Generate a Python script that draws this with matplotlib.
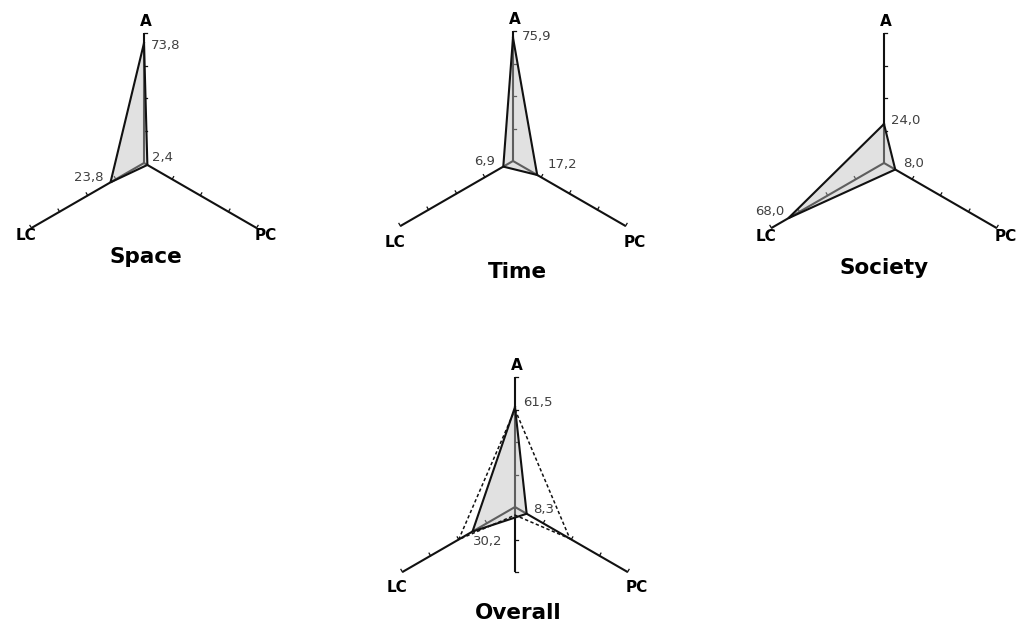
import numpy as np
import matplotlib
matplotlib.use("Agg")
import matplotlib.pyplot as plt

# values (A, LC, PC)
categories = ["A", "LC", "PC"]
space_vals = [73.8, 23.8, 2.4]
time_vals = [75.9, 6.9, 17.2]
society_vals = [24.0, 68.0, 8.0]
overall_vals = [61.5, 30.2, 8.3]
# dashed outline on the overall chart: A, PC, dip below centre, LC
overall_dashed = [60.0, 39.0, 5.0, 40.0]
titles = ["Space", "Time", "Society", "Overall"]

axis_ticks = [20, 40, 60, 80]
axis_max = 80

# layout (pixels, y from top of figure)
W, H = 1019, 623
PX_PER_UNIT = 130 / 80
HALF = 150
ANG = {"A": 90, "LC": 210, "PC": 330}
DASH_ANG = [90, 330, 270, 210]

charts = [
    dict(vals=space_vals, center=(144, 163), title_d=(2, 100), name_dy=77,
         offs=[(7, 2), (-7.5, -5), (5, -7.5)], ha=["left", "right", "left"]),
    dict(vals=time_vals, center=(513, 161), title_d=(4, 117), name_dy=86,
         offs=[(9, -1), (-8, -5.5), (10, -10)], ha=["left", "right", "left"]),
    dict(vals=society_vals, center=(884, 163), title_d=(0, 111), name_dy=78,
         offs=[(7, -3.5), (-3.5, -7), (8, -6.5)], ha=["left", "right", "left"]),
    dict(vals=overall_vals, center=(515, 507), title_d=(3, 112), name_dy=85,
         offs=[(8, -5), (0.5, 9.5), (6.5, -4)], ha=["left", "left", "left"]),
]


def to_xy(values, angles):
    a = np.radians(angles)
    v = np.asarray(values, dtype=float)
    return v * np.cos(a), v * np.sin(a)


fig = plt.figure(figsize=(W / 100, H / 100), dpi=100)
lim = HALF / PX_PER_UNIT
tick_len = 3 / PX_PER_UNIT
line_col = "#111111"

for i, ch in enumerate(charts):
    cx, cy = ch["center"]
    ax = fig.add_axes([(cx - HALF) / W, (H - cy - HALF) / H, 2 * HALF / W, 2 * HALF / H])
    ax.set_xlim(-lim, lim)
    ax.set_ylim(-lim, lim)
    ax.axis("off")

    # axes with small ticks
    for cat in categories:
        ang = ANG[cat]
        lo = -40 if (cat == "A" and i == 3) else 0
        xs, ys = to_xy([lo, axis_max], [ang, ang])
        ax.plot(xs, ys, color=line_col, lw=1.5, zorder=1, solid_capstyle="butt")
        perp = {"A": 0, "LC": 120, "PC": 60}[cat]
        tks = list(axis_ticks) + ([-20, -40] if lo < 0 else [])
        for t in tks:
            bx, by = to_xy([t], [ang])
            dx, dy = to_xy([tick_len], [perp])
            ax.plot([bx[0], bx[0] + dx[0]], [by[0], by[0] + dy[0]],
                    color=line_col, lw=0.9, zorder=1)

    angs = [ANG[c] for c in categories]
    px, py = to_xy(ch["vals"], angs)
    ax.fill(px, py, facecolor="#bdbdbd", alpha=0.45, edgecolor="none", zorder=2)
    ax.plot(np.append(px, px[0]), np.append(py, py[0]), color=line_col, lw=1.5,
            zorder=3, solid_joinstyle="miter")

    if i == 3:
        dx_, dy_ = to_xy(overall_dashed, DASH_ANG)
        ax.plot(np.append(dx_, dx_[0]), np.append(dy_, dy_[0]), color=line_col,
                lw=1.1, ls=(0, (2.2, 1.6)), zorder=4)

    # value labels
    for v, x, y, (ox, oy), ha in zip(ch["vals"], px, py, ch["offs"], ch["ha"]):
        ax.annotate(f"{v:.1f}".replace(".", ","), (x, y), xytext=(ox, -oy),
                    textcoords="offset pixels", ha=ha, va="center",
                    fontsize=9.5, color="#404040", zorder=5)

    # category names
    fig.text((cx + 2) / W, (H - (cy - 137)) / H, "A", ha="center", va="baseline",
             fontsize=11, fontweight="bold")
    fig.text((cx - 118) / W, (H - (cy + ch["name_dy"])) / H, "LC", ha="center",
             va="baseline", fontsize=11, fontweight="bold")
    fig.text((cx + 122) / W, (H - (cy + ch["name_dy"])) / H, "PC", ha="center",
             va="baseline", fontsize=11, fontweight="bold")

    tdx, tdy = ch["title_d"]
    fig.text((cx + tdx) / W, (H - (cy + tdy)) / H, titles[i], ha="center",
             va="baseline", fontsize=15.5, fontweight="bold")

fig.savefig("out.png", dpi=100)
